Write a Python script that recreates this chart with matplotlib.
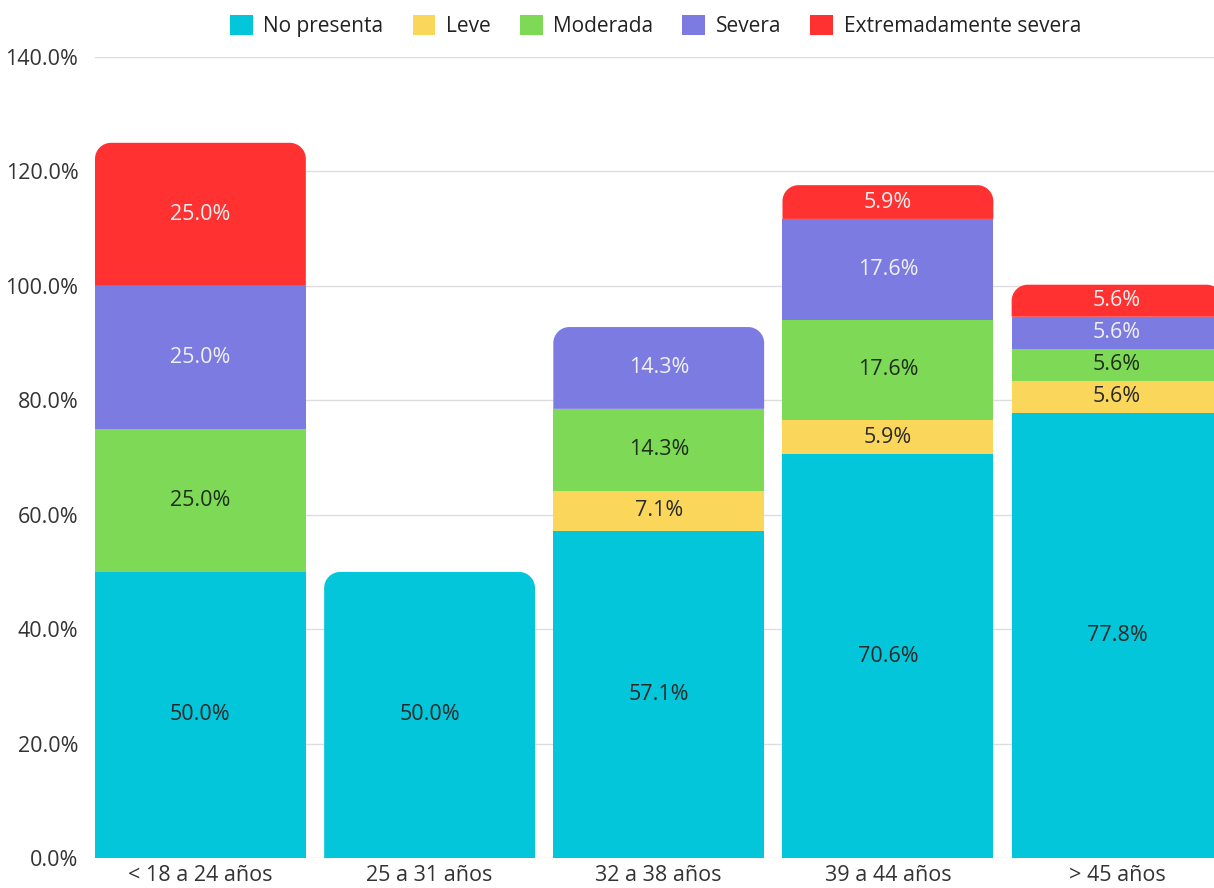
import matplotlib
matplotlib.use("Agg")
import matplotlib.pyplot as plt
from matplotlib.patches import Patch, PathPatch
from matplotlib.path import Path
import numpy as np

categories = ["< 18 a 24 años", "25 a 31 años", "32 a 38 años", "39 a 44 años", "> 45 años"]
series_names = ["No presenta", "Leve", "Moderada", "Severa", "Extremadamente severa"]
no_presenta = [50.0, 50.0, 57.1, 70.6, 77.8]
leve = [0.0, 0.0, 7.1, 5.9, 5.6]
moderada = [25.0, 0.0, 14.3, 17.6, 5.6]
severa = [25.0, 0.0, 14.3, 17.6, 5.6]
extrema = [25.0, 0.0, 0.0, 5.9, 5.6]
yticks = [0, 20, 40, 60, 80, 100, 120, 140]

colors = ["#03C6DA", "#FAD75B", "#7ED957", "#7B7BE2", "#FF3131"]
label_colors = ["#2a2a2a", "#2a2a2a", "#1f2f1a", "#F0F0F0", "#F0F0F0"]

plt.rcParams['font.family'] = ['Open Sans', 'DejaVu Sans']

fig = plt.figure(figsize=(12.14, 8.88), dpi=100)
ax = fig.add_axes([95/1214, 30/888, 1 - 95/1214, (858-57)/888])

data = [no_presenta, leve, moderada, severa, extrema]
x = np.arange(len(categories))
width = 0.92
ax.set_xlim(-width/2, 4.423)
ax.set_ylim(0, 140)

rx = 16/229.25
ry = 16/5.72

def rounded_top(x0, w, y0, h, color):
    x1 = x0 + w
    y1 = y0 + h
    r_y = min(ry, h)
    k = 0.5523
    verts = [
        (x0, y0), (x1, y0), (x1, y1 - r_y),
        (x1, y1 - r_y + k*r_y), (x1 - rx + k*rx, y1), (x1 - rx, y1),
        (x0 + rx, y1),
        (x0 + rx - k*rx, y1), (x0, y1 - r_y + k*r_y), (x0, y1 - r_y),
        (x0, y0),
    ]
    codes = [Path.MOVETO, Path.LINETO, Path.LINETO,
             Path.CURVE4, Path.CURVE4, Path.CURVE4,
             Path.LINETO,
             Path.CURVE4, Path.CURVE4, Path.CURVE4,
             Path.CLOSEPOLY]
    ax.add_patch(PathPatch(Path(verts, codes), facecolor=color, edgecolor='none', zorder=3))

for i in range(len(categories)):
    bottom = 0.0
    vals = [s[i] for s in data]
    top_idx = max(j for j, v in enumerate(vals) if v > 0)
    for j, v in enumerate(vals):
        if v <= 0:
            continue
        if j == top_idx:
            rounded_top(x[i] - width/2, width, bottom, v, colors[j])
        else:
            ax.bar(x[i], v, width=width, bottom=bottom, color=colors[j], zorder=3, linewidth=0)
        ax.text(x[i], bottom + v/2, f"{v:.1f}%", ha='center', va='center',
                fontsize=15.5, color=label_colors[j], zorder=4)
        bottom += v

ax.set_yticks(yticks)
ax.set_yticklabels([f"{t:.1f}%" for t in yticks], fontsize=15.5, color="#333333")
ax.set_xticks(x)
ax.set_xticklabels(categories, fontsize=15.5, color="#333333")
ax.tick_params(axis='both', length=0)
ax.tick_params(axis='y', pad=12)
ax.tick_params(axis='x', pad=5)
ax.grid(axis='y', color="#DDDDDD", linewidth=1, zorder=0)
for s in ax.spines.values():
    s.set_visible(False)

handles = [Patch(facecolor=c, edgecolor='none', label=n) for c, n in zip(colors, series_names)]
fig.legend(handles=handles, loc='upper center', bbox_to_anchor=(0.54, 1.0), ncol=5,
           frameon=False, fontsize=15, handlelength=1.1, handleheight=1.1,
           columnspacing=1.4, handletextpad=0.5, labelcolor="#222222",
           borderaxespad=0.3)

fig.savefig("out.png", dpi=100, facecolor="white")
